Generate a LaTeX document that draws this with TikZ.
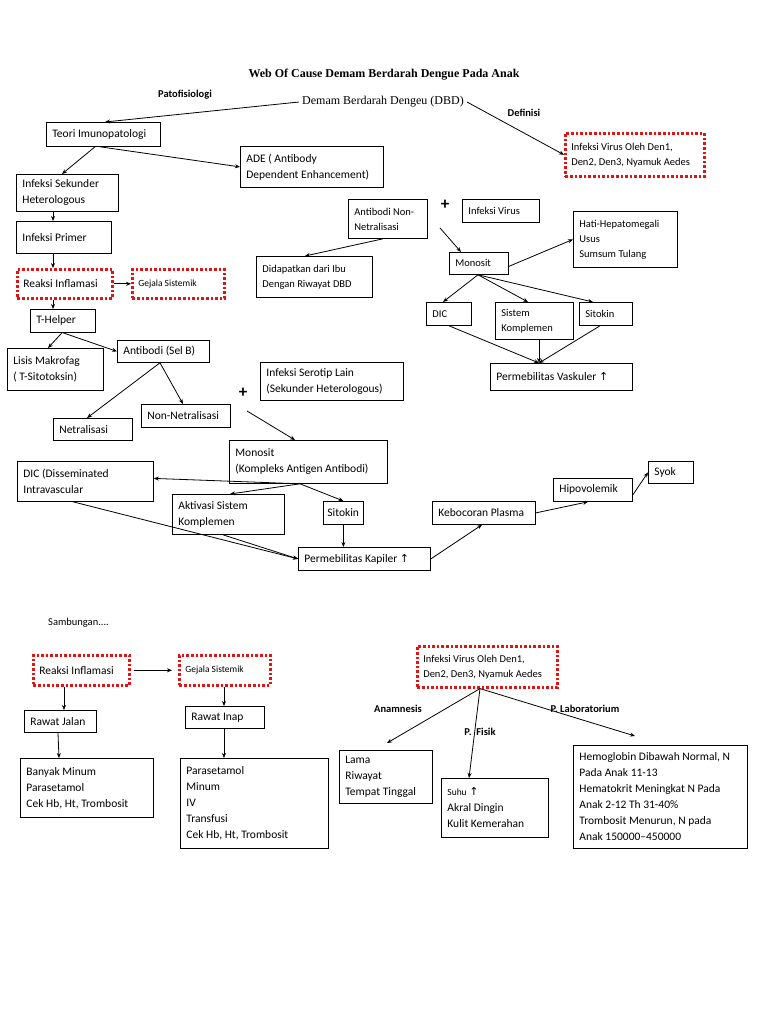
\documentclass[tikz,border=0pt]{standalone}
\usepackage{fontspec}
\setmainfont{Carlito}
\newfontfamily\ttlfont{Liberation Serif}
\newfontfamily\dvsfont{DejaVu Sans}
\usetikzlibrary{arrows.meta}
\definecolor{dotred}{RGB}{225,20,20}
\newcommand\uparrw{{\dvsfont\fontsize{11}{11}\selectfont ↑}}
\begin{document}
\begin{tikzpicture}[x=1pt,y=-1pt,
  every node/.style={font=\fontsize{11.5}{16}\selectfont},
  sm/.style={font=\fontsize{10.5}{15}\selectfont},
  box/.style={draw, line width=0.8pt, anchor=north west, inner xsep=6pt, inner ysep=0pt, align=flush left},
  bx/.style 2 args={minimum width=#1pt, minimum height=#2pt, text width/.expanded={\the\dimexpr#1pt-12pt\relax}},
  redbox/.style={box, draw=dotred, line width=2.6pt, dash pattern=on 2.6pt off 2pt},
  lbl/.style={font=\bfseries\fontsize{10.5}{12}\selectfont},
  plus/.style={font=\bfseries\fontsize{17}{17}\selectfont, inner sep=0pt},
  arr/.style={draw, line width=0.8pt, -{Stealth[length=5pt,width=4pt]}}
]
\useasboundingbox (0,0) rectangle (768,1024);

% titles and labels
\node[font=\ttlfont\bfseries\fontsize{12}{14}\selectfont] (title) at (384,75) {Web Of Cause Demam Berdarah Dengue Pada Anak};
\node[lbl] (patof) at (185,95) {Patofisiologi};
\node[font=\ttlfont\fontsize{12}{14}\selectfont, inner xsep=3pt] (dbd) at (383,102) {Demam Berdarah Dengeu (DBD)};
\node[lbl] (definisi) at (524,113) {Definisi};

% left branch
\node[box, bx={114}{24}] (teori) at (46,122) {Teori Imunopatologi};
\node[box, bx={143}{41}] (ade) at (240,146) {ADE ( Antibody\\Dependent Enhancement)};
\node[box, bx={102}{37}] (infsek) at (16,174) {Infeksi Sekunder\\Heterologous};
\node[box, bx={95}{32}] (infprim) at (16,221) {Infeksi Primer};
\node[redbox, bx={95}{29}] (reaksi) at (16,268) {Reaksi Inflamasi};
\node[redbox, bx={92}{29}, font=\fontsize{9.5}{12}\selectfont] (gejala) at (131,268) {Gejala Sistemik};
\node[box, bx={65}{23}] (thelper) at (30,309) {T-Helper};
\node[box, bx={96}{42}] (lisis) at (7,348) {Lisis Makrofag\\( T-Sitotoksin)};
\node[box, bx={92}{22}] (antib) at (117,340) {Antibodi (Sel B)};
\node[box, bx={79}{22}] (netral) at (53,418) {Netralisasi};
\node[box, bx={89}{23}] (nonnet) at (141,404) {Non-Netralisasi};
\node[plus] (plus1) at (243,393) {+};
\coordinate (p1s) at (247,411);
\node[box, bx={143}{38}] (serotip) at (260,362) {Infeksi Serotip Lain\\(Sekunder Heterologous)};
\node[box, bx={158}{43}] (monosit2) at (229,440) {Monosit\\(Kompleks Antigen Antibodi)};
\node[box, bx={136}{40}] (dic2) at (17,461) {DIC (Disseminated\\Intravascular};
\node[box, bx={112}{40}] (aktiv) at (172,494) {Aktivasi Sistem\\Komplemen};
\node[box, bx={40}{23}, inner xsep=4pt, text width=32pt] (sitokin2) at (323,501) {Sitokin};
\node[box, bx={132}{23}] (permkap) at (298,547) {Permebilitas Kapiler \uparrw};
\node[box, bx={103}{23}] (keboc) at (432,501) {Kebocoran Plasma};
\node[box, bx={79}{23}] (hipo) at (553,478) {Hipovolemik};
\node[box, bx={45}{22}] (syok) at (648,461) {Syok};

% right branch
\node[redbox, bx={139}{43}, sm] (infvir1) at (564,132) {Infeksi Virus Oleh Den1,\\Den2, Den3, Nyamuk Aedes};
\node[box, bx={79}{39}, sm] (abnon) at (348,199) {Antibodi Non-\\Netralisasi};
\node[plus] (plus2) at (445,205) {+};
\coordinate (p2s) at (440,228);
\node[box, bx={77}{23}, sm] (infv) at (462,199) {Infeksi Virus};
\node[box, bx={116}{41}, sm] (didapat) at (256,256) {Didapatkan dari Ibu\\Dengan Riwayat DBD};
\node[box, bx={59}{22}, sm] (monosit1) at (449,252) {Monosit};
\node[box, bx={104}{56}, sm] (hati) at (573,211) {Hati-Hepatomegali\\Usus\\Sumsum Tulang};
\node[box, bx={45}{23}, sm] (dic1) at (426,302) {DIC};
\node[box, bx={78}{37}, sm] (sistem) at (495,302) {Sistem\\Komplemen};
\node[box, bx={53}{23}, sm] (sitokin1) at (579,302) {Sitokin};
\node[box, bx={142}{27}] (permvas) at (490,363) {Permebilitas Vaskuler \uparrw};

% bottom section
\node[anchor=west, sm, inner xsep=0pt] (samb) at (48,623) {Sambungan....};
\node[redbox, bx={96}{30}] (reaksi2) at (32,654) {Reaksi Inflamasi};
\node[redbox, bx={91}{30}, font=\fontsize{9.5}{12}\selectfont] (gejala2) at (178,654) {Gejala Sistemik};
\node[box, bx={72}{22}] (rjalan) at (24,710) {Rawat Jalan};
\node[box, bx={79}{22}] (rinap) at (185,706) {Rawat Inap};
\node[box, bx={133}{59}] (banyak) at (20,758) {Banyak Minum\\Parasetamol\\Cek Hb, Ht, Trombosit};
\node[box, bx={148}{90}] (paras) at (180,758) {Parasetamol\\Minum\\IV\\Transfusi\\Cek Hb, Ht, Trombosit};
\node[redbox, bx={140}{41}, sm] (infvir2) at (416,645) {Infeksi Virus Oleh Den1,\\Den2, Den3, Nyamuk Aedes};
\node[box, bx={93}{53}] (lama) at (339,750) {Lama\\Riwayat\\Tempat Tinggal};
\node[box, bx={107}{59}] (suhu) at (441,778) {{\fontsize{9.5}{12}\selectfont Suhu} \uparrw\\Akral Dingin\\Kulit Kemerahan};
\node[box, bx={174}{103}] (hemo) at (573,745) {Hemoglobin Dibawah Normal, N\\Pada Anak 11-13\\Hematokrit Meningkat N Pada\\Anak 2-12 Th 31-40\%\\Trombosit Menurun, N pada\\Anak 150000--450000};
\node[lbl] (anam) at (398,709) {Anamnesis};
\node[lbl] (pfis) at (480,732) {P.\ \ Fisik};
\node[lbl] (plab) at (585,709) {P. Laboratorium};

% connectors top
\path[arr] (dbd.west) -- ([xshift=59pt]teori.north west);
\path[arr] (dbd.east) -- (infvir1.west);
\path[arr] ([xshift=49pt]teori.south west) -- ([xshift=46pt]infsek.north west);
\path[arr] ([xshift=54pt]teori.south west) -- (ade.west);
\path[arr] ([xshift=37pt]infsek.south west) -- ([xshift=37pt]infprim.north west);
\path[arr] ([xshift=37pt]infprim.south west) -- ([xshift=37pt]reaksi.north west);
\path[arr] (reaksi.east) -- (gejala.west);
\path[arr] ([xshift=37pt]reaksi.south west) -- ([xshift=23pt]thelper.north west);
\path[arr] ([xshift=32pt]thelper.south west) -- ([xshift=41pt]lisis.north west);
\path[arr] ([xshift=33pt]thelper.south west) -- (antib.west);
\path[arr] ([xshift=43pt]antib.south west) -- ([xshift=34pt]netral.north west);
\path[arr] ([xshift=43pt]antib.south west) -- ([xshift=42pt]nonnet.north west);
\path[arr] (p1s) -- ([xshift=66pt]monosit2.north west);
\path[arr] ([xshift=71pt]monosit2.south west) -- ([yshift=3pt]dic2.east);
\path[arr] ([xshift=71pt]monosit2.south west) -- ([xshift=58pt]aktiv.north west);
\path[arr] ([xshift=71pt]monosit2.south west) -- (sitokin2.north);
\path[arr] (sitokin2.south) -- (sitokin2.south |- permkap.north);
\path[arr] ([xshift=56pt]dic2.south west) -- (permkap.west);
\path[arr] ([xshift=51pt]aktiv.south west) -- (permkap.west);
\path[arr] (permkap.east) -- ([xshift=50pt]keboc.south west);
\path[arr] (keboc.east) -- ([xshift=35pt]hipo.south west);
\path[arr] ([yshift=-5pt]hipo.east) -- (syok.west);

\path[arr] ([xshift=35pt]abnon.south west) -- ([xshift=49pt]didapat.north west);
\path[arr] (p2s) -- ([xshift=12pt]monosit1.north west);
\path[arr] ([yshift=-3pt]monosit1.east) -- (hati.west);
\path[arr] ([xshift=29pt]monosit1.south west) -- ([xshift=17pt]dic1.north west);
\path[arr] ([xshift=29pt]monosit1.south west) -- ([xshift=33pt]sistem.north west);
\path[arr] ([xshift=29pt]monosit1.south west) -- ([xshift=14pt]sitokin1.north west);
\path[arr] ([xshift=23pt]dic1.south west) -- ([xshift=49pt]permvas.north west);
\path[arr] ([xshift=44pt]sistem.south west) -- ([xshift=49pt]permvas.north west);
\path[arr] ([xshift=21pt]sitokin1.south west) -- ([xshift=49pt]permvas.north west);

% connectors bottom
\path[arr] ([xshift=3pt]reaksi2.east) -- ([xshift=-6pt]gejala2.west);
\path[arr] ([xshift=32pt]reaksi2.south west) -- ([xshift=40pt]rjalan.north west);
\path[arr] ([xshift=46pt]gejala2.south west) -- ([xshift=39pt]rinap.north west);
\path[arr] ([xshift=34pt]rjalan.south west) -- ([xshift=39pt]banyak.north west);
\path[arr] ([xshift=39pt]rinap.south west) -- ([xshift=44pt]paras.north west);
\path[arr] ([xshift=64pt]infvir2.south west) -- ([xshift=48pt,yshift=7pt]lama.north west);
\path[arr] ([xshift=64pt]infvir2.south west) -- ([xshift=28pt]suhu.north west);
\path[arr] ([xshift=64pt]infvir2.south west) -- ([xshift=62pt,yshift=9pt]hemo.north west);
\end{tikzpicture}
\end{document}
